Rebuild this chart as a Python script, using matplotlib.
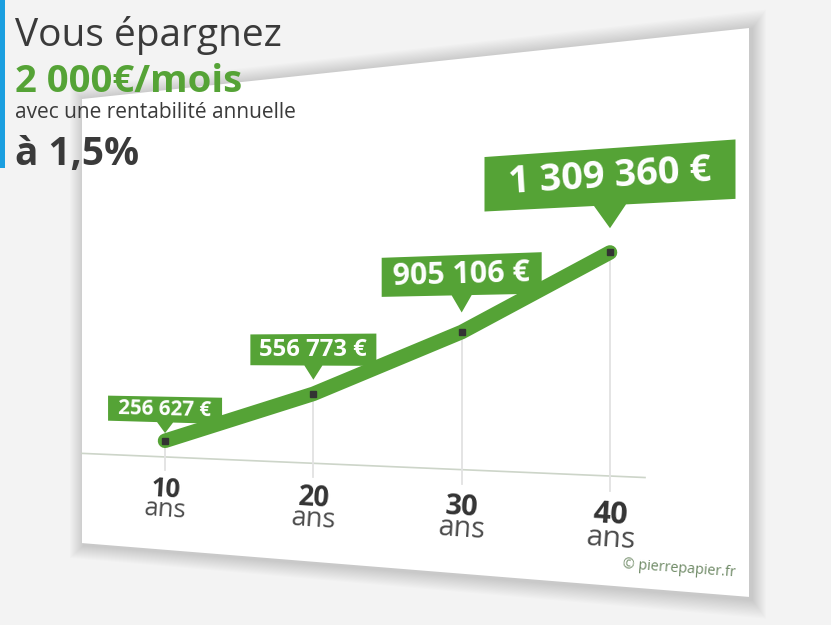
import numpy as np
import matplotlib
matplotlib.use('Agg')
import matplotlib.pyplot as plt
import matplotlib.transforms as mtransforms
from matplotlib.patches import Polygon, Rectangle

# data
years = [10, 20, 30, 40]
year_labels = ['10', '20', '30', '40']
unit = 'ans'
values = [256627, 556773, 905106, 1309360]
value_labels = ['256 627 €', '556 773 €', '905 106 €', '1 309 360 €']
title_lines = ['Vous épargnez', '2 000€/mois', 'avec une rentabilité annuelle', 'à 1,5%']
credit = '© pierrepapier.fr'

GREEN = '#55a336'
DARK = '#3a3a3a'
W, H = 831, 625
FONT = ['Open Sans', 'DejaVu Sans']
plt.rcParams['font.family'] = FONT

# label box styles (flat pixels): width, height, gap, tail, tail half width, font size
box_w = [114, 126, 160, 251]
box_h = [25, 29, 35, 47]
box_gap = [7.5, 13, 17, 20]
box_tail = [10.5, 13, 15, 19]
box_tw = [8, 9, 10, 16]
box_fs = [14.5, 15.8, 19, 22.6]


# perspective of the card (image pixels, origin top left)
def card_top(x):
    return 99 - 0.1064 * (x - 82)


def card_bot(x):
    return 543 + 0.0807 * (x - 81)


class Warp(mtransforms.Transform):
    # flat card (x 82..749, y 82..530 display px) -> tilted card
    input_dims = 2
    output_dims = 2
    is_separable = False

    def transform_non_affine(self, xy):
        xy = np.asarray(xy, float).reshape(-1, 2)
        x = xy[:, 0]
        v = (xy[:, 1] - 82) / 448.0
        yb = card_bot(x)
        yt = card_top(x)
        return np.column_stack([x, H - (yb - v * (yb - yt))])


warp = Warp()

fig = plt.figure(figsize=(W / 100, H / 100), dpi=100)
fig.patch.set_facecolor('#f3f3f3')

# card shadow + card
flat = np.array([[82, 82], [749, 82], [749, 530], [82, 530]], float)
for k in range(14, 0, -1):
    sh = flat + np.array([[-k + 2, -k - 2], [k + 3, -k - 2], [k + 3, k - 1], [-k + 2, k - 1]])
    fig.add_artist(Polygon(sh, closed=True, transform=warp, facecolor='black',
                           edgecolor='none', alpha=0.011, zorder=0))
fig.add_artist(Polygon(flat, closed=True, transform=warp, facecolor='white',
                       edgecolor='none', zorder=1))

ax = fig.add_axes([82 / W, 172.5 / H, (645 - 82) / W, (485.2 - 172.5) / H])
ax.set_xlim(4.4, 42.36)
ax.set_ylim(158500, 2109000)
ax.axis('off')
ax.set_zorder(3)

tdata = ax.transData + warp
tblend = mtransforms.blended_transform_factory(ax.transData, ax.transAxes)


def put(tr, x, y, s, size, dx=0, dy=0, **kw):
    p = tr.transform([x, y]) + np.array([dx, dy])
    q = warp.transform(np.array([p, p + [12, 0], p + [0, 12]]))
    ang = np.degrees(np.arctan2(q[1, 1] - q[0, 1], q[1, 0] - q[0, 0]))
    k = (q[2, 1] - q[0, 1]) / 12
    fig.text(q[0, 0], q[0, 1], s, transform=mtransforms.IdentityTransform(),
             rotation=ang, rotation_mode='anchor', fontsize=size * k, zorder=6, **kw)


# baseline
ax.plot([0, 1], [0, 0], transform=ax.transAxes + warp, color='#cdd5c9', lw=1.2,
        clip_on=False, zorder=2)

# vertical guides
for yr, val in zip(years, values):
    frac = (val - 158500) / (2109000 - 158500)
    ax.plot([yr, yr], [frac, -0.04], transform=tblend + warp, color='#e2e2e2', lw=1.3,
            clip_on=False, zorder=2)

# the line
ax.plot(years, values, transform=tdata, color=GREEN, lw=10.5, solid_capstyle='round',
        solid_joinstyle='round', clip_on=False, zorder=3)
ax.plot(years, values, transform=tdata, ls='none', marker='s', ms=4.2, color='#333333',
        clip_on=False, zorder=4)

# value labels
for i, (yr, val) in enumerate(zip(years, values)):
    px, py = ax.transData.transform([yr, val])
    b0 = py + box_gap[i] + box_tail[i]
    hw = box_w[i] / 2
    shape = [[px, py + box_gap[i]], [px - box_tw[i], b0], [px - hw, b0], [px - hw, b0 + box_h[i]],
             [px + hw, b0 + box_h[i]], [px + hw, b0], [px + box_tw[i], b0]]
    fig.add_artist(Polygon(shape, closed=True, transform=warp, facecolor=GREEN,
                           edgecolor='none', zorder=5))
    put(mtransforms.IdentityTransform(), px, b0 + box_h[i] / 2, value_labels[i], box_fs[i],
        color='white', fontweight='bold', ha='center', va='center')

# x labels
for yr, lab in zip(years, year_labels):
    put(tblend, yr, 0, lab, 18.2, dy=-39, color='#333333', fontweight='bold',
        ha='center', va='baseline')
    put(tblend, yr, 0, unit, 18, dy=-58, color='#4a4a4a', ha='center', va='baseline')

# credit
put(mtransforms.IdentityTransform(), 735, 97, credit, 8.2, color='#6f8a66',
    ha='right', va='baseline')

# title block
fig.add_artist(Rectangle((0, 1 - 168 / H), 5 / W, 168 / H, transform=fig.transFigure,
                         facecolor='#1b9fe0', edgecolor='none', zorder=7))
fig.text(15 / W, 1 - 46 / H, title_lines[0], fontsize=28, color=DARK, va='baseline', zorder=7)
fig.text(15 / W, 1 - 92 / H, title_lines[1], fontsize=27.5, color=GREEN, fontweight='bold',
         va='baseline', zorder=7)
fig.text(15 / W, 1 - 118 / H, title_lines[2], fontsize=15, color=DARK, va='baseline', zorder=7)
fig.text(15 / W, 1 - 165 / H, title_lines[3], fontsize=28, color=DARK, fontweight='bold',
         va='baseline', zorder=7)

fig.savefig('out.png', dpi=100, facecolor=fig.get_facecolor())
